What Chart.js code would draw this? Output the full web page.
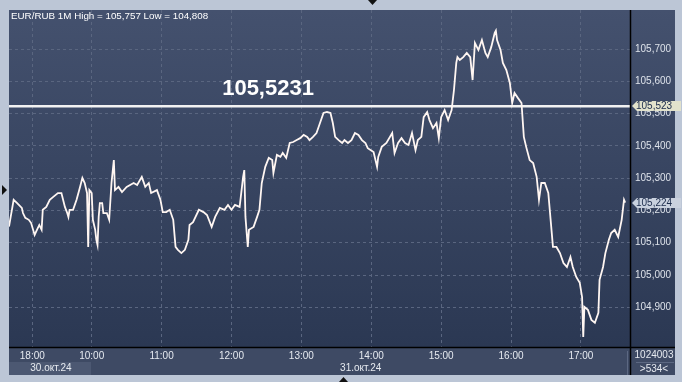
<!DOCTYPE html>
<html>
<head>
<meta charset="utf-8">
<script src="https://cdn.jsdelivr.net/npm/chart.js@4/dist/chart.umd.min.js"></script>
<style>
  html, body { margin: 0; padding: 0; background: #bcc6d6; }
  #wrap { width: 682px; height: 382px; position: relative; }
</style>
</head>
<body>
<div id="wrap"><canvas id="graph"></canvas></div>
<script>
// minute bar index (534 bars visible) and price
const barIdx = [0,1,4,7,11,12,14,17,19,22,24,26,28,29,32,35,38,42,45,48,50,51,52,55,58,61,63,65,67,68,69,71,72,74,75,76,77,78,80,81,84,86,88,90,91,94,97,101,107,110,114,117,120,122,127,130,132,135,138,141,143,145,148,151,154,155,158,163,167,170,174,177,181,185,188,191,194,198,201,202,203,205,206,210,213,215,217,220,223,226,227,230,233,235,238,241,244,247,250,253,256,258,261,264,267,270,273,276,278,280,283,286,288,291,294,297,300,303,306,308,313,316,317,320,324,329,331,334,337,340,343,346,349,351,354,356,359,361,364,367,369,371,374,377,380,382,384,385,387,390,393,396,398,400,403,406,409,411,414,417,418,419,422,424,427,430,432,434,437,440,442,444,447,450,453,455,457,460,463,465,467,470,473,476,479,482,484,487,490,492,493,494,497,500,503,506,507,510,512,515,517,520,523,526,528,529];
const prices = [105.150,105.171,105.233,105.223,105.208,105.192,105.177,105.171,105.161,105.124,105.140,105.155,105.140,105.202,105.211,105.233,105.242,105.254,105.254,105.211,105.192,105.180,105.202,105.202,105.233,105.273,105.301,105.285,105.254,105.087,105.263,105.254,105.171,105.140,105.109,105.093,105.180,105.223,105.223,105.192,105.192,105.171,105.285,105.356,105.263,105.273,105.257,105.273,105.285,105.279,105.304,105.273,105.285,105.254,105.263,105.233,105.195,105.195,105.202,105.171,105.087,105.078,105.068,105.078,105.109,105.155,105.164,105.202,105.195,105.186,105.149,105.180,105.208,105.202,105.217,105.202,105.217,105.211,105.304,105.325,105.180,105.087,105.140,105.149,105.180,105.202,105.285,105.335,105.363,105.356,105.316,105.372,105.366,105.378,105.363,105.409,105.412,105.418,105.424,105.434,105.428,105.418,105.428,105.440,105.471,105.502,105.505,105.502,105.471,105.428,105.418,105.409,105.418,105.409,105.418,105.440,105.434,105.418,105.409,105.393,105.381,105.335,105.366,105.397,105.409,105.440,105.378,105.409,105.424,105.409,105.403,105.440,105.387,105.418,105.428,105.489,105.505,105.480,105.455,105.471,105.424,105.489,105.511,105.480,105.511,105.573,105.657,105.675,105.666,105.675,105.688,105.675,105.604,105.719,105.697,105.728,105.688,105.675,105.706,105.750,105.757,105.728,105.697,105.657,105.635,105.595,105.533,105.564,105.548,105.533,105.428,105.397,105.356,105.347,105.304,105.233,105.285,105.285,105.254,105.171,105.087,105.087,105.068,105.037,105.025,105.056,105.025,104.994,104.976,104.932,104.808,104.901,104.892,104.861,104.852,104.883,104.985,105.025,105.068,105.109,105.130,105.140,105.118,105.171,105.233,105.224];

const levelValue = 105.5231;
const priceTags = [105.523, 105.224];
const yTicks = [104.9, 105.0, 105.1, 105.2, 105.3, 105.4, 105.5, 105.6, 105.7];
const xTickIdx = [20, 71, 131, 191, 251, 311, 371, 431, 491];
const xTickLabels = ['18:00', '10:00', '11:00', '12:00', '13:00', '14:00', '15:00', '16:00', '17:00'];
const dateIdx = [36, 302];
const dateLabels = ['30.окт.24', '31.окт.24'];
const titleText = 'EUR/RUB 1M High = 105,757 Low = 104,808';

const FONT = '"Liberation Sans", Arial, sans-serif';

function fmt(v) { return v.toFixed(3).replace('.', ','); }

// frame, panels and labels around the plot
const frame = {
  id: 'frame',
  beforeDraw(chart) {
    const c = chart.ctx, a = chart.chartArea;
    c.save();
    c.fillStyle = '#bcc6d6';
    c.fillRect(0, 0, chart.width, chart.height);
    const g = c.createLinearGradient(0, a.top, 0, a.bottom);
    g.addColorStop(0, '#44516e');
    g.addColorStop(1, '#2b3853');
    c.fillStyle = g;
    c.fillRect(a.left, a.top, 675 - a.left, a.bottom - a.top);
    c.fillStyle = '#3e4a64';
    c.fillRect(a.left, a.bottom, 675 - a.left, 375 - a.bottom);
    // date box
    c.fillStyle = '#4c5872';
    c.fillRect(a.left, 362, 82, 13);
    // separators
    c.strokeStyle = '#5c6882';
    c.beginPath(); c.moveTo(627.5, 351); c.lineTo(627.5, 375); c.stroke();
    c.beginPath(); c.moveTo(636, 362.5); c.lineTo(674, 362.5); c.stroke();
    // triangles on frame
    c.fillStyle = '#111';
    c.beginPath(); c.moveTo(2, 185); c.lineTo(7, 190); c.lineTo(2, 195); c.fill();
    c.beginPath(); c.moveTo(368, 0); c.lineTo(377, 0); c.lineTo(372.5, 5); c.fill();
    c.beginPath(); c.moveTo(339, 382); c.lineTo(348, 382); c.lineTo(343.5, 377); c.fill();
    c.restore();
  },
  afterDraw(chart) {
    const c = chart.ctx, a = chart.chartArea;
    const xs = chart.scales.x, ys = chart.scales.y;
    c.save();
    c.strokeStyle = '#000';
    c.lineWidth = 1.5;
    c.beginPath(); c.moveTo(a.left, a.bottom + 0.5); c.lineTo(675, a.bottom + 0.5); c.stroke();
    c.beginPath(); c.moveTo(a.right - 0.5, a.top); c.lineTo(a.right - 0.5, 375); c.stroke();

    c.font = '9.8px ' + FONT;
    c.fillStyle = '#ffffff';
    c.textBaseline = 'middle';
    c.textAlign = 'left';
    c.fillText(titleText, 11, 16);

    c.font = '10px ' + FONT;
    c.fillStyle = '#e6eaf0';
    c.textAlign = 'center';
    dateLabels.forEach((t, i) => c.fillText(t, xs.getPixelForValue(dateIdx[i]), 368));
    c.fillText('1024003', 654, 355);
    c.fillText('>534<', 654, 369);

    // level label
    c.font = 'bold 22px ' + FONT;
    c.fillStyle = '#ffffff';
    c.textAlign = 'left';
    c.fillText(levelValue.toFixed(4).replace('.', ','), xs.getPixelForValue(183), ys.getPixelForValue(levelValue) - 17);

    // price tags on right axis
    const tagCols = ['#e2e2cc', '#c9d1de'];
    c.font = '10px ' + FONT;
    priceTags.forEach((v, i) => {
      const y = Math.round(ys.getPixelForValue(v));
      c.fillStyle = tagCols[i];
      c.beginPath();
      c.moveTo(632, y);
      c.lineTo(637, y - 5);
      c.lineTo(681, y - 5);
      c.lineTo(681, y + 5);
      c.lineTo(637, y + 5);
      c.closePath();
      c.fill();
      c.fillStyle = '#1b2b4b';
      c.textAlign = 'left';
      c.fillText(fmt(v), 636, y + 0.5);
    });
    c.restore();
  }
};

const grid = { color: '#5a6680', lineWidth: 1, drawTicks: false, tickLength: 0 };

const config = {
  type: 'line',
  data: {
    datasets: [{
      data: barIdx.map((x, i) => ({ x: x, y: prices[i] })),
      borderColor: '#fff6f2',
      borderWidth: 1.8,
      pointRadius: 0,
      tension: 0
    }, {
      data: [{ x: 0, y: levelValue }, { x: 534, y: levelValue }],
      borderColor: '#f2f2f2',
      borderWidth: 2.5,
      pointRadius: 0
    }]
  },
  options: {
    responsive: true,
    maintainAspectRatio: false,
    animation: false,
    devicePixelRatio: 1,
    layout: { padding: { left: 9, top: 10, right: 7, bottom: 7 } },
    plugins: { legend: { display: false }, tooltip: { enabled: false } },
    scales: {
      x: {
        type: 'linear',
        min: 0,
        max: 534,
        border: { display: false, dash: [3, 3] },
        grid: grid,
        afterBuildTicks: s => { s.ticks = xTickIdx.map(v => ({ value: v })); },
        afterFit: s => { s.height = 28; },
        ticks: {
          padding: 3,
          maxRotation: 0,
          autoSkip: false,
          color: '#e6eaf0',
          font: { family: FONT, size: 10 },
          callback: v => xTickLabels[xTickIdx.indexOf(v)]
        }
      },
      y: {
        position: 'right',
        min: 104.777,
        max: 105.821,
        border: { display: false, dash: [3, 3] },
        grid: grid,
        afterBuildTicks: s => { s.ticks = yTicks.map(v => ({ value: v })); },
        afterFit: s => { s.width = 44; },
        ticks: {
          padding: 4,
          color: '#dde2ea',
          font: { family: FONT, size: 10 },
          callback: v => fmt(v)
        }
      }
    }
  },
  plugins: [frame]
};

const myChart = new Chart(document.getElementById('graph'), config);
</script>
</body>
</html>
